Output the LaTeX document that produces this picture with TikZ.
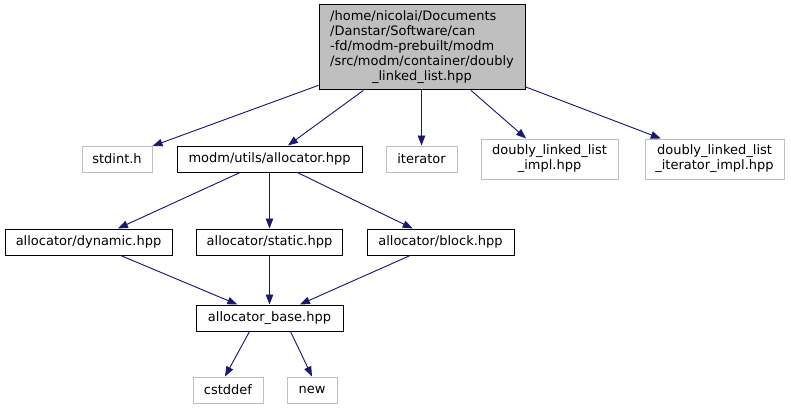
\documentclass[tikz,border=0pt]{standalone}
\usepackage{fontspec}
\setmainfont{DejaVu Sans}
\usepackage{tikz}
\usetikzlibrary{arrows.meta}
\definecolor{edgeblue}{HTML}{191970}
\definecolor{extgray}{HTML}{BFBFBF}

\begin{document}
\begin{tikzpicture}[x=1pt, y=-1pt, >={Triangle[length=10pt,width=7.5pt]},
  every node/.style={font=\fontsize{13}{15}\selectfont, inner sep=0pt, line width=1pt},
  file/.style={draw=black, minimum height=26pt, inner xsep=10pt},
  ext/.style={draw=extgray, minimum height=26pt, inner xsep=10pt},
  dep/.style={->, draw=edgeblue, fill=edgeblue, line width=0.9pt}]
  \useasboundingbox (0,0) rectangle (791,409);
  \node[file, fill=extgray, minimum width=206pt, minimum height=85pt] (root) at (422,47.5)
    {\begin{tabular}{@{}l@{}}/home/nicolai/Documents\\/Danstar/Software/can\\-fd/modm-prebuilt/modm\\/src/modm/container/doubly\\\multicolumn{1}{@{}c@{}}{\_linked\_list.hpp}\end{tabular}};
  \node[ext, minimum width=70pt] (stdint) at (117,159) {stdint.h};
  \node[file, minimum width=185pt] (alloc) at (269.5,159) {modm/utils/allocator.hpp};
  \node[ext, minimum width=71pt] (iter) at (421.5,159) {iterator};
  \node[ext, minimum width=137pt, minimum height=40pt, align=center] (impl) at (549.5,159)
    {doubly\_linked\_list\\\_impl.hpp};
  \node[ext, minimum width=139pt, minimum height=40pt, align=center] (iterimpl) at (714.5,159)
    {doubly\_linked\_list\\\_iterator\_impl.hpp};
  \node[file, minimum width=167pt] (dynamic) at (88.5,242) {allocator/dynamic.hpp};
  \node[file, minimum width=146pt] (static) at (269.5,242) {allocator/static.hpp};
  \node[file, minimum width=147pt] (block) at (440.5,242) {allocator/block.hpp};
  \node[file, minimum width=147pt] (base) at (269.5,318) {allocator\_base.hpp};
  \node[ext, minimum width=70pt] (cstddef) at (228,390) {cstddef};
  \node[ext, minimum width=50pt] (new) at (312,390) {new};

  \draw[dep] (root) -- (stdint);
  \draw[dep] (root) -- (alloc);
  \draw[dep] (root.south -| iter) -- (iter);
  \draw[dep] (root) -- (impl);
  \draw[dep] (root) -- (iterimpl);
  \draw[dep] (alloc) -- (dynamic);
  \draw[dep] (alloc) -- (static);
  \draw[dep] (alloc) -- (block);
  \draw[dep] (dynamic) -- (base);
  \draw[dep] (static) -- (base);
  \draw[dep] (block) -- (base);
  \draw[dep] ([xshift=-20pt]base.south) -- ([xshift=-3pt]cstddef.north);
  \draw[dep] ([xshift=21pt]base.south) -- (new.north);
\end{tikzpicture}
\end{document}
